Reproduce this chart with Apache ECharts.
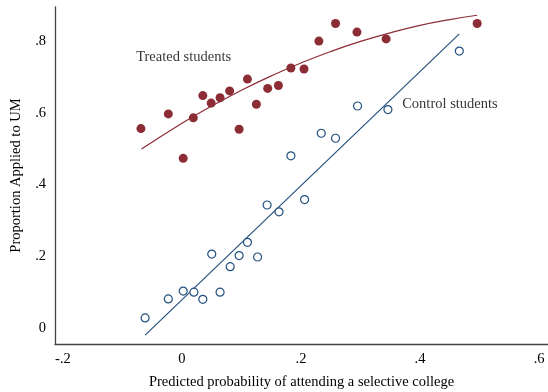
<!DOCTYPE html>
<html><head><meta charset="utf-8">
<script src="https://cdn.jsdelivr.net/npm/echarts@6/dist/echarts.min.js"></script>
<style>html,body{margin:0;padding:0;background:#fff}#c{width:548px;height:392px}</style>
</head><body><div id="c"></div>
<script>
// Treated students (filled)
const treatedX = [-0.069,-0.023,0.002,0.019,0.035,0.049,0.064,0.080,0.096,0.110,0.125,0.144,0.162,0.183,0.205,0.230,0.258,0.294,0.343,0.496];
const treatedY = [0.556,0.597,0.473,0.586,0.648,0.627,0.642,0.661,0.554,0.694,0.624,0.668,0.676,0.725,0.722,0.800,0.849,0.825,0.806,0.849];
// Control students (hollow)
const controlX = [-0.062,-0.023,0.002,0.020,0.035,0.050,0.064,0.081,0.096,0.110,0.127,0.143,0.163,0.183,0.206,0.234,0.258,0.295,0.346,0.466];
const controlY = [0.028,0.081,0.103,0.100,0.080,0.206,0.100,0.171,0.202,0.239,0.198,0.343,0.324,0.480,0.358,0.543,0.529,0.619,0.609,0.772];
// Fitted curves
const treatedFitX = [-0.068,0,0.05,0.1,0.15,0.2,0.25,0.3,0.35,0.4,0.45,0.496];
const treatedFitY = [0.499,0.571,0.619,0.663,0.703,0.739,0.771,0.799,0.823,0.844,0.860,0.872];
const controlFitX = [-0.062,0.466];
const controlFitY = [-0.020,0.820];
// Ticks
const xTicks = [-0.2,0,0.2,0.4,0.6];
const yTicks = [0,0.2,0.4,0.6,0.8];
const textLabels = [{name:'Treated students',x:-0.077,y:0.755},{name:'Control students',x:0.370,y:0.624}];

const fmt = v => { if (Math.abs(v) < 1e-9) return '0'; let s = String(+v.toFixed(2)); return s.replace('0.', '.'); };
const zip = (a,b) => a.map((v,i)=>[v,b[i]]);
const RED = '#8c2d35', BLUE = '#24507f', FONT = 'Liberation Serif', FS = 14.5;

const chart = echarts.init(document.getElementById('c'), null, {renderer:'canvas'});
chart.setOption({
  animation:false,
  backgroundColor:'#fff',
  textStyle:{fontFamily:FONT},
  grid:{left:55,right:0,top:7,bottom:48,containLabel:false,outerBoundsMode:'none'},
  xAxis:{type:'value',min:-0.2134,max:0.615,
    name:'Predicted probability of attending a selective college',nameLocation:'middle',nameGap:31,
    nameTextStyle:{fontFamily:FONT,fontSize:FS,color:'#000'},
    axisLine:{show:true,onZero:false,lineStyle:{color:'#444',width:1.3}},
    axisTick:{show:false},splitLine:{show:false},
    axisLabel:{customValues:xTicks,formatter:fmt,fontFamily:FONT,fontSize:FS,color:'#000',margin:8}},
  yAxis:{type:'value',min:-0.0446,max:0.895,
    name:'Proportion Applied to UM',nameLocation:'middle',nameGap:31,nameRotate:90,
    nameTextStyle:{fontFamily:FONT,fontSize:FS,color:'#000'},
    axisLine:{show:true,onZero:false,lineStyle:{color:'#444',width:1.3}},
    axisTick:{show:false},splitLine:{show:false},
    axisLabel:{customValues:yTicks,formatter:fmt,fontFamily:FONT,fontSize:FS,color:'#000',margin:9}},
  series:[
    {type:'line',data:zip(treatedFitX,treatedFitY),smooth:true,symbol:'none',lineStyle:{color:RED,width:1.2},z:2},
    {type:'line',data:zip(controlFitX,controlFitY),symbol:'none',lineStyle:{color:BLUE,width:1.2},z:2},
    {type:'scatter',data:zip(treatedX,treatedY),symbol:'circle',symbolSize:9,itemStyle:{color:RED,opacity:1},z:3},
    {type:'scatter',data:zip(controlX,controlY),symbol:'circle',symbolSize:8,itemStyle:{color:'#fff',borderColor:BLUE,borderWidth:1.2,opacity:1},z:3},
    {type:'scatter',data:textLabels.map(t=>({name:t.name,value:[t.x,t.y]})),symbolSize:0,silent:true,
      label:{show:true,position:'right',distance:0,formatter:p=>p.name,fontFamily:FONT,fontSize:FS,color:'#000'}}
  ]
});
</script></body></html>
